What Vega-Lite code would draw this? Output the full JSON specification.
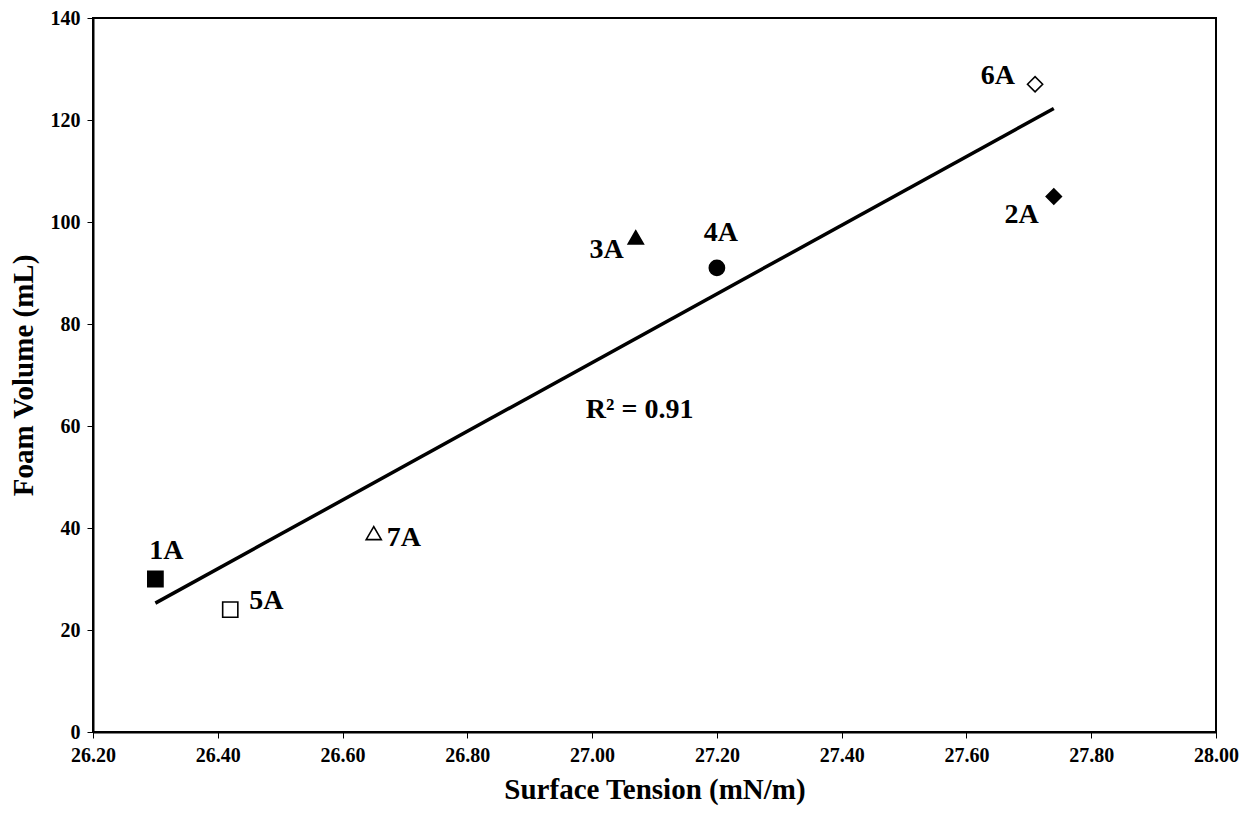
{
  "$schema": "https://vega.github.io/schema/vega-lite/v6.json",
  "width": 1123,
  "height": 714,
  "autosize": {"type": "none"},
  "padding": {"left": 93, "top": 18, "right": 23, "bottom": 81},
  "background": "white",
  "config": {
    "view": {"stroke": "black", "strokeWidth": 2},
    "font": "Liberation Serif",
    "axis": {
      "grid": false,
      "labelFlush": false,
      "labelOverlap": false,
      "domainColor": "black",
      "domainWidth": 2,
      "tickColor": "black",
      "tickWidth": 1,
      "tickSize": 6,
      "labelFont": "Liberation Serif",
      "labelFontWeight": "bold",
      "labelFontSize": 20,
      "labelColor": "black",
      "titleFont": "Liberation Serif",
      "titleFontWeight": "bold",
      "titleFontSize": 29,
      "titleColor": "black"
    }
  },
  "data": {
    "values": [
      {"sample": "1A", "tension": 26.30, "foam": 30},
      {"sample": "2A", "tension": 27.74, "foam": 105},
      {"sample": "3A", "tension": 27.07, "foam": 97},
      {"sample": "4A", "tension": 27.20, "foam": 91},
      {"sample": "5A", "tension": 26.42, "foam": 24},
      {"sample": "6A", "tension": 27.71, "foam": 127},
      {"sample": "7A", "tension": 26.65, "foam": 39}
    ]
  },
  "encoding": {
    "x": {
      "field": "tension",
      "type": "quantitative",
      "scale": {"domain": [26.2, 28], "nice": false, "zero": false},
      "axis": {
        "title": "Surface Tension (mN/m)",
        "values": [26.2, 26.4, 26.6, 26.8, 27.0, 27.2, 27.4, 27.6, 27.8, 28.0],
        "format": ".2f",
        "labelFlush": false,
        "labelFontSize": 20,
        "labelFontWeight": "bold",
        "labelPadding": 7,
        "titlePadding": 10
      }
    },
    "y": {
      "field": "foam",
      "type": "quantitative",
      "scale": {"domain": [0, 140], "nice": false},
      "axis": {
        "title": "Foam Volume (mL)",
        "values": [0, 20, 40, 60, 80, 100, 120, 140],
        "labelFlush": false,
        "labelFontSize": 20,
        "labelFontWeight": "bold",
        "labelPadding": 7,
        "titlePadding": 12
      }
    }
  },
  "layer": [
    {
      "transform": [{"regression": "foam", "on": "tension"}],
      "mark": {"type": "line", "color": "black", "strokeWidth": 3.5}
    },
    {
      "mark": {"type": "point", "filled": false, "strokeWidth": 1.6, "stroke": "black", "size": 230, "opacity": 1},
      "encoding": {
        "shape": {
          "field": "sample",
          "type": "nominal",
          "legend": null,
          "scale": {
            "domain": ["1A", "2A", "3A", "4A", "5A", "6A", "7A"],
            "range": ["square", "diamond", "triangle-up", "circle", "square", "diamond", "triangle-up"]
          }
        },
        "fill": {
          "field": "sample",
          "type": "nominal",
          "legend": null,
          "scale": {
            "domain": ["1A", "2A", "3A", "4A", "5A", "6A", "7A"],
            "range": ["black", "black", "black", "black", "white", "white", "white"]
          }
        }
      }
    },
    {
      "transform": [{"filter": "datum.sample == '1A'"}],
      "mark": {"type": "text", "font": "Liberation Serif", "fontWeight": "bold", "fontSize": 28, "align": "center", "baseline": "middle", "dx": 11, "dy": -28, "color": "black"},
      "encoding": {"text": {"field": "sample"}}
    },
    {
      "transform": [{"filter": "datum.sample == '2A'"}],
      "mark": {"type": "text", "font": "Liberation Serif", "fontWeight": "bold", "fontSize": 28, "align": "right", "baseline": "middle", "dx": -15, "dy": 18, "color": "black"},
      "encoding": {"text": {"field": "sample"}}
    },
    {
      "transform": [{"filter": "datum.sample == '3A'"}],
      "mark": {"type": "text", "font": "Liberation Serif", "fontWeight": "bold", "fontSize": 28, "align": "right", "baseline": "middle", "dx": -12, "dy": 13, "color": "black"},
      "encoding": {"text": {"field": "sample"}}
    },
    {
      "transform": [{"filter": "datum.sample == '4A'"}],
      "mark": {"type": "text", "font": "Liberation Serif", "fontWeight": "bold", "fontSize": 28, "align": "center", "baseline": "middle", "dx": 4, "dy": -35, "color": "black"},
      "encoding": {"text": {"field": "sample"}}
    },
    {
      "transform": [{"filter": "datum.sample == '5A'"}],
      "mark": {"type": "text", "font": "Liberation Serif", "fontWeight": "bold", "fontSize": 28, "align": "left", "baseline": "middle", "dx": 19, "dy": -9, "color": "black"},
      "encoding": {"text": {"field": "sample"}}
    },
    {
      "transform": [{"filter": "datum.sample == '6A'"}],
      "mark": {"type": "text", "font": "Liberation Serif", "fontWeight": "bold", "fontSize": 28, "align": "right", "baseline": "middle", "dx": -20, "dy": -8, "color": "black"},
      "encoding": {"text": {"field": "sample"}}
    },
    {
      "transform": [{"filter": "datum.sample == '7A'"}],
      "mark": {"type": "text", "font": "Liberation Serif", "fontWeight": "bold", "fontSize": 28, "align": "left", "baseline": "middle", "dx": 13, "dy": 5, "color": "black"},
      "encoding": {"text": {"field": "sample"}}
    },
    {
      "transform": [{"filter": "datum.sample == '1A'"}],
      "mark": {"type": "text", "font": "Liberation Serif", "fontWeight": "bold", "fontSize": 28, "align": "left", "baseline": "alphabetic", "color": "black", "text": "R² = 0.91"},
      "encoding": {
        "x": {"datum": 26.99},
        "y": {"datum": 61.6}
      }
    }
  ]
}
